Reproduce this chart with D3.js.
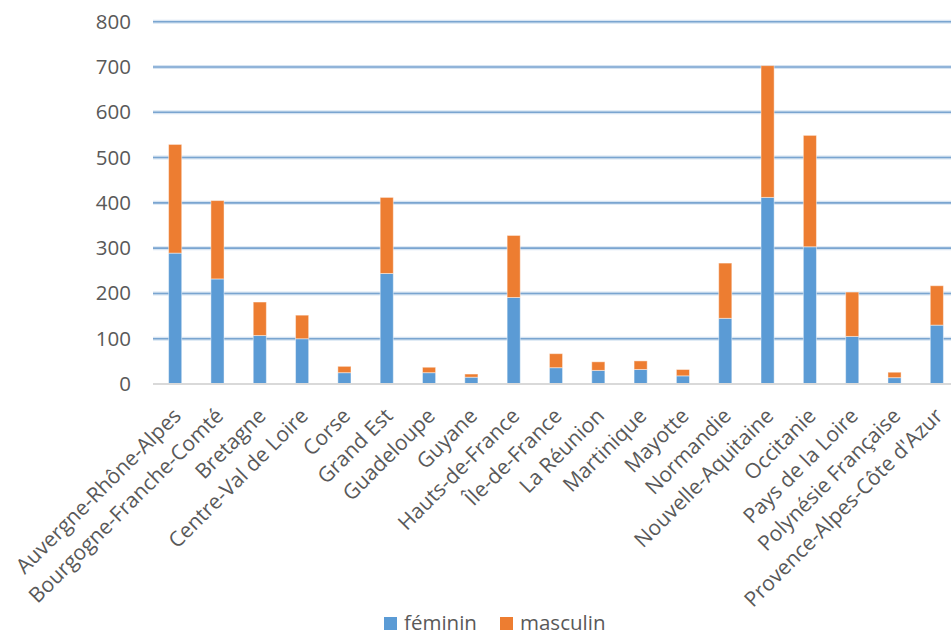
<!DOCTYPE html>
<html><head><meta charset="utf-8">
<script src="https://cdn.jsdelivr.net/npm/d3@7"></script>
<style>body{margin:0;background:#fff}svg{display:block}text{font-family:"Open Sans",sans-serif;fill:#595959}</style>
</head><body>
<script>
const categories = ["Auvergne-Rhône-Alpes","Bourgogne-Franche-Comté","Bretagne","Centre-Val de Loire","Corse","Grand Est","Guadeloupe","Guyane","Hauts-de-France","Île-de-France","La Réunion","Martinique","Mayotte","Normandie","Nouvelle-Aquitaine","Occitanie","Pays de la Loire","Polynésie Française","Provence-Alpes-Côte d'Azur"];
const feminin  = [289,232,107,100,25,244,25,15,191,36,30,32,18,145,412,303,105,14,130];
const masculin = [240,173,74,52,14,168,12,7,137,31,19,19,14,122,291,246,98,12,87];
const seriesNames = ["féminin","masculin"];
const colors = ["#5b9bd5","#ed7d31"];
const yTicks = [0,100,200,300,400,500,600,700,800];

const W = 951, H = 636;
const svg = d3.select("body").append("svg").attr("width", W).attr("height", H);

const x = d3.scaleBand().domain(categories).range([154, 958]).paddingInner(0.69).paddingOuter(0.345);
const y = d3.scaleLinear().domain([0, 800]).range([384, 21.7]);

// gridlines
const grid = svg.append("g");
yTicks.filter(d => d > 0).forEach(t => {
  grid.append("line").attr("x1", 153).attr("x2", W).attr("y1", y(t)).attr("y2", y(t))
    .attr("stroke", "#d6e4f2").attr("stroke-width", 4);
  grid.append("line").attr("x1", 153).attr("x2", W).attr("y1", y(t)).attr("y2", y(t))
    .attr("stroke", "#7aa5d0").attr("stroke-width", 1.6);
});

// y axis labels
const yAxis = d3.axisLeft(y).tickValues(yTicks).tickSize(0).tickPadding(0);
const ga = svg.append("g").attr("transform", "translate(131,0)").call(yAxis);
ga.select(".domain").remove();
ga.selectAll("text").style("font-size", "20.5px").style("font-family", "'Open Sans',sans-serif").attr("fill", "#595959");

// stacked bars
const data = categories.map((c, i) => ({cat: c, "féminin": feminin[i], "masculin": masculin[i]}));
const stack = d3.stack().keys(seriesNames)(data);
svg.append("g").selectAll("g").data(stack).join("g")
  .attr("fill", (d, i) => colors[i])
  .selectAll("rect").data(d => d).join("rect")
  .attr("x", d => x(d.data.cat)).attr("width", x.bandwidth())
  .attr("y", d => y(d[1])).attr("height", d => y(d[0]) - y(d[1]))
  .attr("stroke", "rgba(255,255,255,0.45)").attr("stroke-width", 1);

// baseline
svg.append("line").attr("x1", 153).attr("x2", W).attr("y1", y(0)).attr("y2", y(0))
  .attr("stroke", "#d9d9d9").attr("stroke-width", 2);

// x labels
const xl = svg.append("g");
categories.forEach(c => {
  const cx = x(c) + x.bandwidth() / 2 + 2;
  const cy = 412;
  xl.append("text").attr("transform", `translate(${cx},${cy}) rotate(-45)`)
    .attr("text-anchor", "end").attr("dy", "0.35em")
    .style("font-size", "21px").text(c);
});

// legend
const leg = svg.append("g");
const legX = [384, 500];
seriesNames.forEach((s, i) => {
  leg.append("rect").attr("x", legX[i]).attr("y", 617).attr("width", 13).attr("height", 13).attr("fill", colors[i]);
  leg.append("text").attr("x", legX[i] + 20).attr("y", 630).style("font-size", "20.5px").text(s);
});
</script>
</body></html>
